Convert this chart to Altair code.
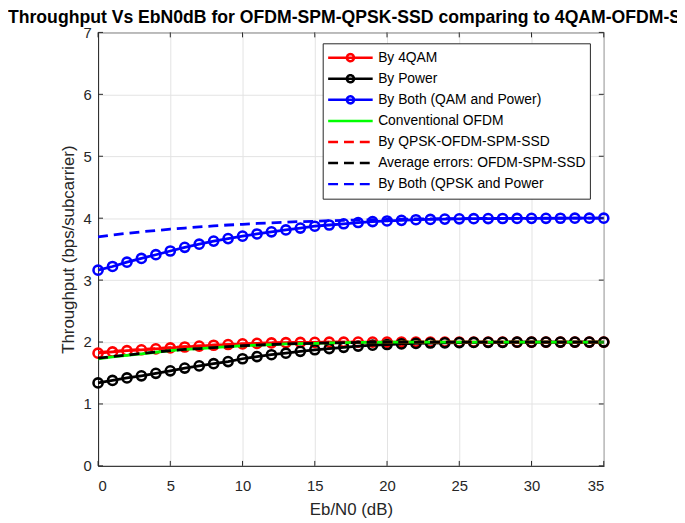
import math
import altair as alt
import pandas as pd

# ---------------- data ----------------
ebn0 = list(range(36))

series_names = [
    "By 4QAM",
    "By Power",
    "By Both (QAM and Power)",
    "Conventional OFDM",
    "By QPSK-OFDM-SPM-SSD",
    "Average errors: OFDM-SPM-SSD",
    "By Both (QPSK and Power",
]

by_4qam = [1.82, 1.84, 1.86, 1.875, 1.89, 1.905, 1.92, 1.935, 1.948, 1.96,
           1.97, 1.978, 1.985, 1.99, 1.993, 1.995, 1.997, 1.998, 1.999, 2.0,
           2.0, 2.0, 2.0, 2.0, 2.0, 2.0, 2.0, 2.0, 2.0, 2.0,
           2.0, 2.0, 2.0, 2.0, 2.0, 2.0]
by_power = [1.34, 1.38, 1.42, 1.455, 1.495, 1.535, 1.58, 1.615, 1.65, 1.685,
            1.73, 1.765, 1.795, 1.82, 1.85, 1.875, 1.895, 1.915, 1.935, 1.95,
            1.96, 1.97, 1.978, 1.984, 1.988, 1.991, 1.993, 1.995, 1.996, 1.997,
            1.998, 1.999, 1.999, 2.0, 2.0, 2.0]
by_both_qam = [3.16, 3.22, 3.29, 3.35, 3.41, 3.47, 3.53, 3.58, 3.63, 3.67,
               3.71, 3.745, 3.78, 3.81, 3.84, 3.87, 3.89, 3.91, 3.93, 3.945,
               3.955, 3.965, 3.975, 3.98, 3.985, 3.99, 3.992, 3.994, 3.995, 3.996,
               3.997, 3.998, 3.999, 4.0, 4.0, 4.0]
conventional = [1.73, 1.76, 1.785, 1.81, 1.835, 1.86, 1.88, 1.895, 1.91, 1.925,
                1.94, 1.95, 1.96, 1.97, 1.975, 1.98, 1.985, 1.99, 1.993, 1.995,
                1.997, 1.998, 1.999, 2.0, 2.0, 2.0, 2.0, 2.0, 2.0, 2.0,
                2.0, 2.0, 2.0, 2.0, 2.0, 2.0]
by_qpsk = [1.83, 1.85, 1.865, 1.88, 1.895, 1.91, 1.925, 1.938, 1.95, 1.96,
           1.97, 1.978, 1.985, 1.99, 1.993, 1.995, 1.997, 1.998, 1.999, 2.0,
           2.0, 2.0, 2.0, 2.0, 2.0, 2.0, 2.0, 2.0, 2.0, 2.0,
           2.0, 2.0, 2.0, 2.0, 2.0, 2.0]
avg_errors = [1.74, 1.765, 1.79, 1.815, 1.84, 1.86, 1.88, 1.895, 1.91, 1.925,
              1.94, 1.95, 1.96, 1.97, 1.975, 1.98, 1.985, 1.99, 1.993, 1.995,
              1.997, 1.998, 1.999, 2.0, 2.0, 2.0, 2.0, 2.0, 2.0, 2.0,
              2.0, 2.0, 2.0, 2.0, 2.0, 2.0]
by_both_qpsk = [3.70, 3.73, 3.755, 3.78, 3.80, 3.825, 3.84, 3.86, 3.875, 3.89,
                3.90, 3.915, 3.925, 3.935, 3.945, 3.95, 3.96, 3.965, 3.97, 3.975,
                3.98, 3.985, 3.988, 3.99, 3.992, 3.994, 3.995, 3.996, 3.997, 3.998,
                3.999, 4.0, 4.0, 4.0, 4.0, 4.0]

x_ticks = [0, 5, 10, 15, 20, 25, 30, 35]
y_ticks = [0, 1, 2, 3, 4, 5, 6, 7]

# ---------------- styles ----------------
series_colors = ["#ff0000", "#000000", "#0000ff", "#00ff00", "#ff0000", "#000000", "#0000ff"]
series_dashed = [False, False, False, False, True, True, True]
series_markers = [True, True, True, False, False, False, False]
DASH = [10, 6]
FONT = "Liberation Sans"
AXIS_COLOR = "#262626"
W, H = 511, 438
TICK = 5

all_values = [by_4qam, by_power, by_both_qam, conventional, by_qpsk, avg_errors, by_both_qpsk]
rows = []
for name, ys in zip(series_names, all_values):
    assert len(ys) == len(ebn0), name
    for xv, yv in zip(ebn0, ys):
        rows.append({"series": name, "x": xv, "y": yv})
df = pd.DataFrame(rows)
xt_df = pd.DataFrame({"x": x_ticks})
yt_df = pd.DataFrame({"y": y_ticks})


def circle_path(r, n=20):
    pts = [(r * math.cos(2 * math.pi * i / n), r * math.sin(2 * math.pi * i / n)) for i in range(n)]
    return "M" + " L".join(f"{a:.4f},{b:.4f}" for a, b in pts) + " Z"


line_path = "M-1,0 L1,0"
marker_path = line_path + " " + circle_path(0.16)
shape_range = [marker_path if m else line_path for m in series_markers]
dash_range = [DASH if d else [1, 0] for d in series_dashed]

x_scale = alt.Scale(domain=[0, 35], nice=False, zero=False)
y_scale = alt.Scale(domain=[0, 7], nice=False)
x_axis = alt.Axis(values=x_ticks, format="d", title="Eb/N0 (dB)", labelPadding=13, titlePadding=8)
y_axis = alt.Axis(values=y_ticks, format="d", title="Throughput (bps/subcarrier)", labelPadding=7, titlePadding=5)
x_enc = alt.X("x:Q", scale=x_scale, axis=x_axis)
y_enc = alt.Y("y:Q", scale=y_scale, axis=y_axis)

base = alt.Chart(df)
layers = []

for name, col, dashed, marked in zip(series_names, series_colors, series_dashed, series_markers):
    sub = base.transform_filter(alt.datum.series == name)
    line_kwargs = dict(color=col, strokeWidth=2.8, clip=False)
    if dashed:
        line_kwargs["strokeDash"] = DASH
    layers.append(sub.mark_line(**line_kwargs).encode(x=x_enc, y=y_enc))
    if marked:
        layers.append(
            sub.mark_point(shape="circle", filled=False, size=85, strokeWidth=2.6,
                           color=col, opacity=1).encode(x=x_enc, y=y_enc)
        )

# inward tick marks on all four sides (MATLAB box style)
xt = alt.Chart(xt_df).mark_rule(color=AXIS_COLOR, strokeWidth=1)
yt = alt.Chart(yt_df).mark_rule(color=AXIS_COLOR, strokeWidth=1)
layers.append(xt.encode(x=x_enc, y=alt.value(H), y2=alt.value(H - TICK)))
layers.append(xt.encode(x=x_enc, y=alt.value(0), y2=alt.value(TICK)))
layers.append(yt.encode(y=y_enc, x=alt.value(0), x2=alt.value(TICK)))
layers.append(yt.encode(y=y_enc, x=alt.value(W), x2=alt.value(W - TICK)))

legend = alt.Legend(
    title=None,
    orient="none",
    legendX=227,
    legendY=11,
    symbolSize=2025,
    symbolStrokeWidth=2.5,
    symbolOffset=0,
    clipHeight=21,
    rowPadding=0.3,
    padding=4,
    strokeColor=AXIS_COLOR,
    fillColor="white",
    labelFont=FONT,
    labelFontSize=14,
    labelColor="#000000",
    labelOffset=4,
    labelLimit=400,
)
legend_layer = base.transform_filter("datum.x < -100").mark_point(
    filled=False, strokeWidth=2.5, opacity=1
).encode(
    x=x_enc,
    y=y_enc,
    color=alt.Color("series:N", scale=alt.Scale(domain=series_names, range=series_colors), legend=legend),
    shape=alt.Shape("series:N", scale=alt.Scale(domain=series_names, range=shape_range), legend=legend),
    strokeDash=alt.StrokeDash("series:N", scale=alt.Scale(domain=series_names, range=dash_range), legend=legend),
)
layers.append(legend_layer)

chart = alt.layer(*layers).properties(
    width=W,
    height=H,
    title=alt.Title(
        text="Throughput Vs EbN0dB for OFDM-SPM-QPSK-SSD comparing to 4QAM-OFDM-SPM-SSD",
        anchor="start",
        frame="group",
        dx=-91,
        dy=17,
        offset=2,
        baseline="alphabetic",
        font=FONT,
        fontSize=17.8,
        fontWeight="bold",
        color="#000000",
    ),
    autosize=alt.AutoSizeParams(type="none"),
    padding={"left": 91, "top": 22, "right": 74, "bottom": 51},
    background="white",
).configure_view(
    stroke=AXIS_COLOR, strokeWidth=1
).configure_axis(
    labelFont=FONT,
    labelFontSize=15,
    labelColor=AXIS_COLOR,
    titleFont=FONT,
    titleFontSize=17,
    titleFontWeight="normal",
    titleColor=AXIS_COLOR,
    ticks=False,
    tickSize=0,
    domainColor=AXIS_COLOR,
    domainWidth=1,
    gridColor="#e3e3e3",
    gridWidth=1,
)

chart.save("out.html", embed_options={"renderer": "svg", "actions": False})
